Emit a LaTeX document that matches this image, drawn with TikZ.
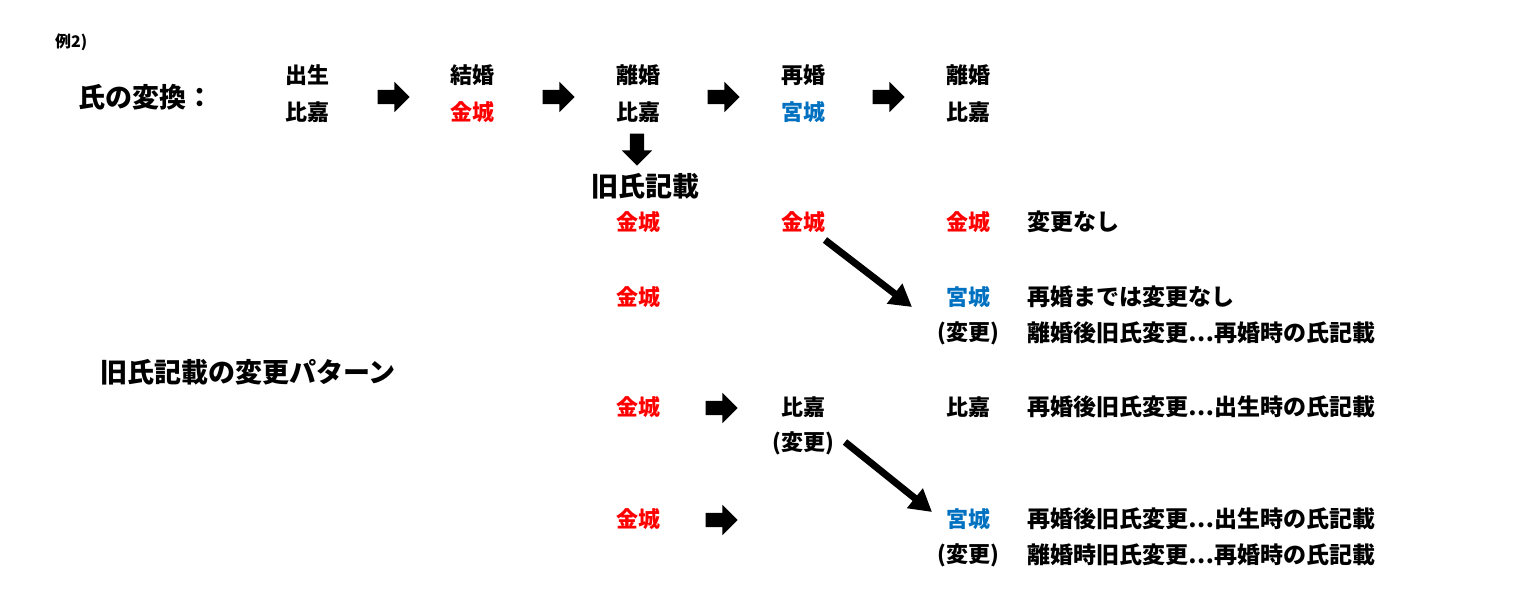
\documentclass[tikz,border=0pt]{standalone}
\usepackage{fontspec}
\setmainfont{Noto Sans CJK JP Black}
\usetikzlibrary{shapes.arrows,arrows.meta}
\definecolor{myred}{HTML}{FF0000}
\definecolor{myblue}{HTML}{0070C0}
\begin{document}
\begin{tikzpicture}[x=1pt,y=-1pt,
  t/.style={inner sep=0pt,font=\fontsize{22}{22}\selectfont},
  tl/.style={inner sep=0pt,font=\fontsize{23}{23}\selectfont,anchor=west},
  big/.style={inner sep=0pt,font=\fontsize{27}{27}\selectfont},
  r/.style={t,text=myred},
  b/.style={t,text=myblue},
  blk/.style={single arrow,fill=black,inner xsep=0pt,inner ysep=7pt,minimum height=32pt,single arrow head extend=8pt,single arrow head indent=0pt},
  diag/.style={line width=7pt,-{Triangle[length=22pt,width=24pt]}}]
\useasboundingbox (0,0) rectangle (1535,603);
\node[inner sep=0pt,anchor=west,font=\fontsize{16}{16}\selectfont] (ex) at (55,42) {例2)};
\node[big,anchor=west] (h1) at (78,97) {氏の変換：};
\node[t] (a1) at (307,75) {出生};   \node[t] (a2) at (307,112) {比嘉};
\node[t] (b1) at (472,75) {結婚};   \node[r] (b2) at (472,112) {金城};
\node[t] (c1) at (638,75) {離婚};   \node[t] (c2) at (638,112) {比嘉};
\node[t] (d1) at (803,75) {再婚};   \node[b] (d2) at (803,112) {宮城};
\node[t] (e1) at (968,75) {離婚};   \node[t] (e2) at (968,112) {比嘉};
\foreach \x/\n in {390/ar1,555/ar2,720/ar3,885/ar4}{\node[blk] (\n) at (\x,97) {};}
\node[blk,rotate=-90] (ard) at (637,146) {};
\node[big] (k) at (645,186) {旧氏記載};
\node[r] (p1) at (638,222) {金城}; \node[r] (p2) at (803,222) {金城}; \node[r] (p3) at (968,222) {金城};
\node[tl] (p4) at (1027,222) {変更なし};
\node[r] (q1) at (638,297) {金城}; \node[b] (q3) at (968,297) {宮城};
\node[tl] (q4) at (1027,297) {再婚までは変更なし};
\node[t] (q5) at (968,333) {(変更)}; \node[tl] (q6) at (1027,333) {離婚後旧氏変更…再婚時の氏記載};
\node[big,anchor=west] (h2) at (100,372) {旧氏記載の変更パターン};
\node[r] (s1) at (638,407) {金城}; \node[blk] (sa) at (718,408) {};
\node[t] (s2) at (803,407) {比嘉}; \node[t] (s3) at (968,407) {比嘉};
\node[tl] (s4) at (1027,407) {再婚後旧氏変更…出生時の氏記載};
\node[t] (s5) at (803,443) {(変更)};
\node[r] (u1) at (638,519) {金城}; \node[blk] (ua) at (718,520) {};
\node[b] (u3) at (968,519) {宮城};
\node[tl] (u4) at (1027,519) {再婚後旧氏変更…出生時の氏記載};
\node[t] (u5) at (968,555) {(変更)}; \node[tl] (u6) at (1027,555) {離婚時旧氏変更…再婚時の氏記載};
\coordinate (d1s) at (825,240); \coordinate (d1e) at (912,307);
\coordinate (d2s) at (845,442); \coordinate (d2e) at (932,512);
\draw[diag] (d1s) -- (d1e);
\draw[diag] (d2s) -- (d2e);
\end{tikzpicture}
\end{document}
